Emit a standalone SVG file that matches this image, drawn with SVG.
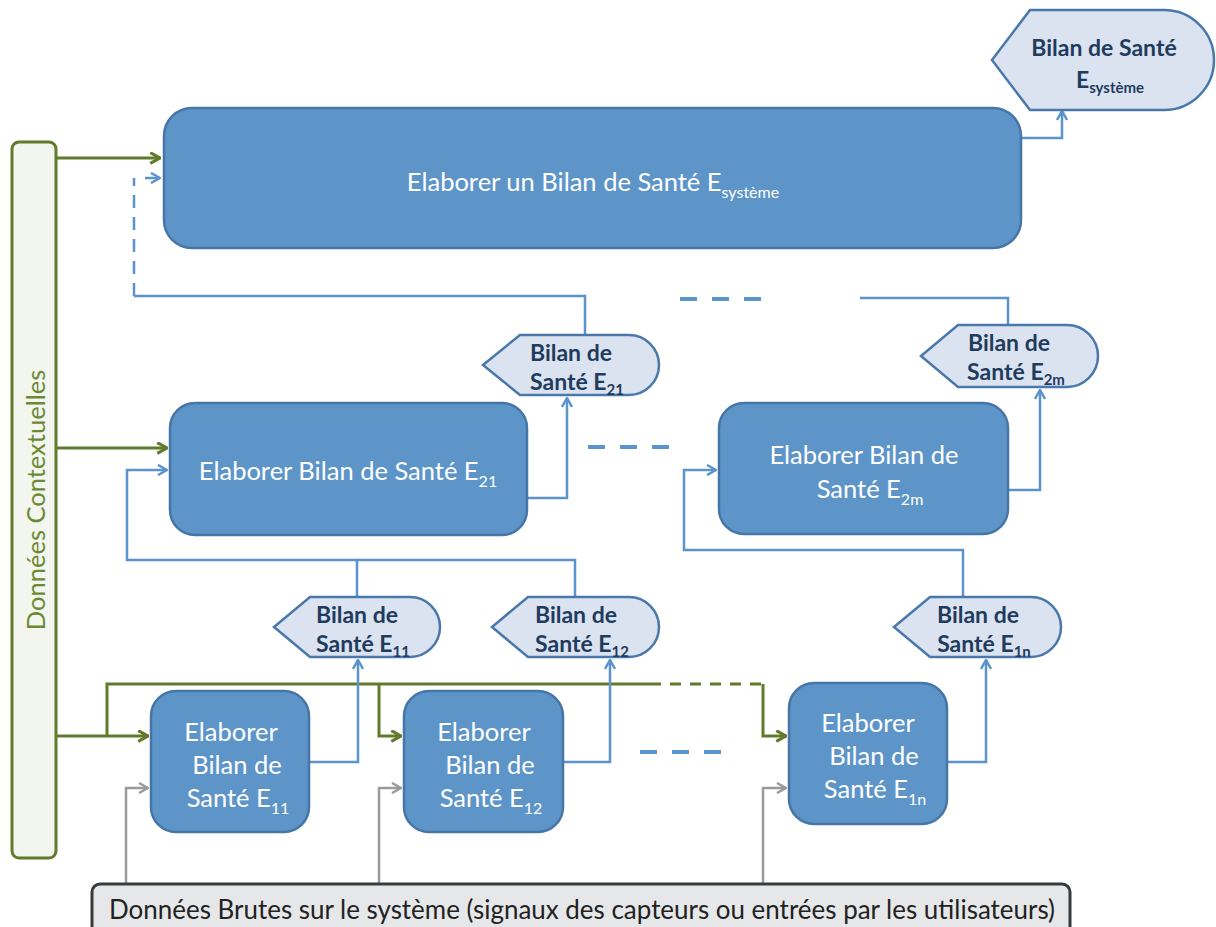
<svg xmlns="http://www.w3.org/2000/svg" width="1216" height="927" viewBox="0 0 1216 927">
<defs>
<style>
.proc{fill:#5e95c9;stroke:#4676a8;stroke-width:2.5}
.bilan{fill:#dbe3f0;stroke:#4a78aa;stroke-width:2.5}
.pt{font-family:Lato,"Open Sans",sans-serif;font-size:25.5px;fill:#ffffff;text-anchor:middle}
.bt{font-family:Lato,"Open Sans",sans-serif;font-size:23px;font-weight:bold;fill:#1f3b5e;text-anchor:middle}
.sub{font-size:16px}
.bt .sub{font-size:15px}
.blue{fill:none;stroke:#5b93cc;stroke-width:2.5}
.green{fill:none;stroke:#627a2c;stroke-width:3}
.gray{fill:none;stroke:#9a9a9a;stroke-width:2.5}
.bdash{fill:none;stroke:#5b93cc;stroke-width:4;stroke-dasharray:17 15}
</style>
<marker id="mb" viewBox="0 0 12 12" refX="11" refY="6" markerWidth="12" markerHeight="12" orient="auto" markerUnits="userSpaceOnUse"><path d="M2,1 L11,6 L2,11" fill="none" stroke="#5b93cc" stroke-width="2.5"/></marker>
<marker id="mg" viewBox="0 0 12 12" refX="11" refY="6" markerWidth="13" markerHeight="13" orient="auto" markerUnits="userSpaceOnUse"><path d="M2,1 L11,6 L2,11" fill="none" stroke="#627a2c" stroke-width="2.8"/></marker>
<marker id="mr" viewBox="0 0 12 12" refX="11" refY="6" markerWidth="12" markerHeight="12" orient="auto" markerUnits="userSpaceOnUse"><path d="M2,1 L11,6 L2,11" fill="none" stroke="#9a9a9a" stroke-width="2.5"/></marker>
</defs>
<rect width="1216" height="927" fill="#ffffff"/>

<g id="connectors">
  <path class="green" d="M56,158 H160" marker-end="url(#mg)"/>
  <path class="green" d="M56,448 H167" marker-end="url(#mg)"/>
  <path class="green" d="M56,736 H148" marker-end="url(#mg)"/>
  <path class="green" d="M107,736 V684 H650"/>
  <path class="green" d="M650,684 H763" stroke-dasharray="11 9"/>
  <path class="green" d="M763,684 V736 H786" marker-end="url(#mg)"/>
  <path class="green" d="M379,684 V736 H401" marker-end="url(#mg)"/>
  <path class="gray" d="M126,884 V788 H148" marker-end="url(#mr)"/>
  <path class="gray" d="M379,884 V788 H401" marker-end="url(#mr)"/>
  <path class="gray" d="M763,884 V788 H786" marker-end="url(#mr)"/>
  <path class="blue" d="M310,762 H358 V660" marker-end="url(#mb)"/>
  <path class="blue" d="M563,762 H610 V660" marker-end="url(#mb)"/>
  <path class="blue" d="M947,762 H986 V660" marker-end="url(#mb)"/>
  <path class="blue" d="M357,597 V560 H127 V470 H167" marker-end="url(#mb)"/>
  <path class="blue" d="M575,597 V560 H357"/>
  <path class="blue" d="M963,597 V550 H684 V470 H716" marker-end="url(#mb)"/>
  <path class="blue" d="M527,498 H567 V398" marker-end="url(#mb)"/>
  <path class="blue" d="M1008,490 H1040 V390" marker-end="url(#mb)"/>
  <path class="blue" d="M585,335 V296 H134"/>
  <path class="blue" d="M134,296 V178" stroke-dasharray="13 9"/>
  <path class="blue" d="M145,178 H160" marker-end="url(#mb)"/>
  <path class="blue" d="M1008,325 V298 H860"/>
  <path class="blue" d="M1021,138 H1062 V111" marker-end="url(#mb)"/>
  <path class="bdash" d="M680,299 H765"/>
  <path class="bdash" d="M588,447 H672"/>
  <path class="bdash" d="M640,752 H724"/>
</g>

<g id="ctx">
  <rect x="12" y="142" width="44" height="716" rx="7" fill="#f3f6ee" stroke="#627a2c" stroke-width="3"/>
  <text transform="translate(45,500) rotate(-90)" font-family="Lato,'Open Sans',sans-serif" font-size="25.5" fill="#6b8a34" text-anchor="middle">Données Contextuelles</text>
</g>

<g id="raw">
  <rect x="92" y="884" width="978" height="50" rx="8" fill="#e6e7e9" stroke="#3a3a3a" stroke-width="3"/>
  <text x="582" y="919" font-family="Lato,'Open Sans',sans-serif" font-size="26" fill="#222222" text-anchor="middle" textLength="946" lengthAdjust="spacingAndGlyphs">Données Brutes sur le système (signaux des capteurs ou entrées par les utilisateurs)</text>
</g>

<g id="top">
  <rect class="proc" x="164" y="108" width="857" height="140" rx="28"/>
  <text class="pt" x="593" y="191">Elaborer un Bilan de Santé E<tspan class="sub" dy="7">système</tspan></text>
</g>

<g id="bilan-sys">
  <path class="bilan" d="M1030,10 H1164 A50,50 0 0 1 1164,110 H1030 L992,60 Z"/>
  <text class="bt" x="1104" y="56">Bilan de Santé</text>
  <text class="bt" x="1110" y="88">E<tspan class="sub" dy="5">système</tspan></text>
</g>

<g id="e21">
  <rect class="proc" x="170" y="403" width="357" height="132" rx="25"/>
  <text class="pt" x="348" y="480">Elaborer Bilan de Santé E<tspan class="sub" dy="7">21</tspan></text>
</g>

<g id="bilan-e21">
  <path class="bilan" d="M520,335 H629 A30,30 0 0 1 629,395 H520 L483,365 Z"/>
  <text class="bt" x="571" y="361">Bilan de</text>
  <text class="bt" x="577" y="390">Santé E<tspan class="sub" dy="5">21</tspan></text>
</g>

<g id="e2m">
  <rect class="proc" x="719" y="403" width="289" height="131" rx="25"/>
  <text class="pt" x="864" y="464">Elaborer Bilan de</text>
  <text class="pt" x="870" y="498">Santé E<tspan class="sub" dy="7">2m</tspan></text>
</g>

<g id="bilan-e2m">
  <path class="bilan" d="M958,325 H1067 A31,31 0 0 1 1067,387 H958 L921,356 Z"/>
  <text class="bt" x="1009" y="351">Bilan de</text>
  <text class="bt" x="1016" y="380">Santé E<tspan class="sub" dy="5">2m</tspan></text>
</g>

<g id="bilan-e11">
  <path class="bilan" d="M310,597 H410 A30,30 0 0 1 410,657 H310 L274,627 Z"/>
  <text class="bt" x="357" y="623">Bilan de</text>
  <text class="bt" x="363" y="652">Santé E<tspan class="sub" dy="5">11</tspan></text>
</g>

<g id="bilan-e12">
  <path class="bilan" d="M528,597 H629 A30,30 0 0 1 629,657 H528 L492,627 Z"/>
  <text class="bt" x="576" y="623">Bilan de</text>
  <text class="bt" x="582" y="652">Santé E<tspan class="sub" dy="5">12</tspan></text>
</g>

<g id="bilan-e1n">
  <path class="bilan" d="M930,597 H1031 A30,30 0 0 1 1031,657 H930 L894,627 Z"/>
  <text class="bt" x="978" y="623">Bilan de</text>
  <text class="bt" x="984" y="652">Santé E<tspan class="sub" dy="5">1n</tspan></text>
</g>

<g id="e11">
  <rect class="proc" x="151" y="691" width="158" height="141" rx="25"/>
  <text class="pt" x="231" y="741">Elaborer</text>
  <text class="pt" x="237" y="774">Bilan de</text>
  <text class="pt" x="238" y="807">Santé E<tspan class="sub" dy="7">11</tspan></text>
</g>

<g id="e12">
  <rect class="proc" x="404" y="691" width="159" height="141" rx="25"/>
  <text class="pt" x="484" y="741">Elaborer</text>
  <text class="pt" x="490" y="774">Bilan de</text>
  <text class="pt" x="491" y="807">Santé E<tspan class="sub" dy="7">12</tspan></text>
</g>

<g id="e1n">
  <rect class="proc" x="789" y="683" width="158" height="141" rx="25"/>
  <text class="pt" x="868" y="732">Elaborer</text>
  <text class="pt" x="874" y="765">Bilan de</text>
  <text class="pt" x="875" y="798">Santé E<tspan class="sub" dy="7">1n</tspan></text>
</g>
</svg>
